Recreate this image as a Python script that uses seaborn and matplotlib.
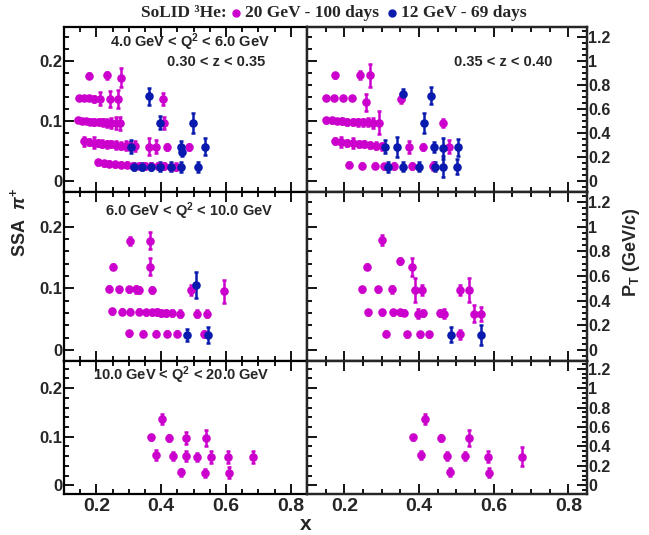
import matplotlib
matplotlib.use('Agg')
import matplotlib.pyplot as plt
from matplotlib.lines import Line2D
from matplotlib.ticker import MultipleLocator, FuncFormatter
import seaborn as sns

# ---- data: x, SSA, SSA error for each panel (magenta = 20 GeV, blue = 12 GeV)
tl_m_x = [0.176, 0.233, 0.276,
          0.145, 0.161, 0.176, 0.192, 0.212, 0.241, 0.266, 0.405,
          0.143, 0.155, 0.168, 0.181, 0.194, 0.207, 0.220, 0.233, 0.246, 0.259, 0.272, 0.408,
          0.163, 0.178, 0.192, 0.205, 0.218, 0.232, 0.246, 0.260, 0.275, 0.290, 0.305, 0.320,
          0.362, 0.383, 0.417, 0.486,
          0.204, 0.222, 0.240, 0.258, 0.276, 0.294, 0.312, 0.330, 0.350, 0.370, 0.390, 0.410, 0.430, 0.445]
tl_m_y = [0.175, 0.176, 0.172,
          0.138, 0.138, 0.138, 0.137, 0.137, 0.136, 0.137, 0.137,
          0.101, 0.100, 0.100, 0.099, 0.099, 0.098, 0.098, 0.097, 0.097, 0.097, 0.096, 0.096,
          0.066, 0.065, 0.064, 0.063, 0.062, 0.061, 0.061, 0.060, 0.059, 0.059, 0.058, 0.058,
          0.057, 0.057, 0.057, 0.057,
          0.031, 0.030, 0.029, 0.028, 0.027, 0.027, 0.026, 0.026, 0.025, 0.025, 0.025, 0.025, 0.024, 0.024]
tl_m_e = [0.004, 0.006, 0.016,
          0.004, 0.004, 0.004, 0.005, 0.011, 0.013, 0.015, 0.010,
          0.003, 0.003, 0.004, 0.004, 0.005, 0.005, 0.006, 0.007, 0.008, 0.010, 0.011, 0.010,
          0.007, 0.005, 0.009, 0.005, 0.006, 0.006, 0.005, 0.006, 0.006, 0.007, 0.007, 0.008,
          0.014, 0.011, 0.005, 0.005,
          0.004, 0.004, 0.004, 0.004, 0.004, 0.004, 0.004, 0.004, 0.005, 0.005, 0.005, 0.005, 0.005, 0.006]
tl_b_x = [0.362, 0.396, 0.499, 0.308, 0.460, 0.463, 0.534,
          0.315, 0.341, 0.367, 0.396, 0.429, 0.462, 0.515]
tl_b_y = [0.141, 0.097, 0.097, 0.057, 0.056, 0.049, 0.057,
          0.024, 0.024, 0.024, 0.024, 0.024, 0.024, 0.024]
tl_b_e = [0.014, 0.011, 0.017, 0.011, 0.011, 0.008, 0.014,
          0.006, 0.006, 0.006, 0.007, 0.007, 0.008, 0.008]

tr_m_x = [0.176, 0.242, 0.270,
          0.150, 0.172, 0.196, 0.220, 0.257, 0.353,
          0.152, 0.166, 0.180, 0.194, 0.208, 0.222, 0.236, 0.250, 0.264, 0.278, 0.292, 0.465,
          0.174, 0.190, 0.206, 0.222, 0.238, 0.254, 0.270, 0.286, 0.301,
          0.374, 0.411, 0.481,
          0.213, 0.248, 0.282, 0.305, 0.332, 0.380, 0.437]
tr_m_y = [0.176, 0.176, 0.176,
          0.138, 0.138, 0.138, 0.138, 0.131, 0.137,
          0.101, 0.101, 0.100, 0.100, 0.099, 0.099, 0.098, 0.098, 0.098, 0.097, 0.097, 0.097,
          0.066, 0.065, 0.064, 0.063, 0.062, 0.061, 0.060, 0.059, 0.058,
          0.057, 0.057, 0.057,
          0.027, 0.026, 0.026, 0.025, 0.025, 0.025, 0.025]
tr_m_e = [0.004, 0.007, 0.019,
          0.004, 0.004, 0.004, 0.004, 0.014, 0.008,
          0.004, 0.004, 0.004, 0.005, 0.005, 0.005, 0.006, 0.006, 0.007, 0.008, 0.019, 0.007,
          0.005, 0.008, 0.005, 0.008, 0.005, 0.005, 0.005, 0.006, 0.006,
          0.010, 0.005, 0.011,
          0.004, 0.004, 0.004, 0.004, 0.005, 0.005, 0.006]
tr_b_x = [0.356, 0.431, 0.413, 0.310, 0.340, 0.441, 0.463, 0.505,
          0.318, 0.358, 0.400, 0.443, 0.465, 0.503]
tr_b_y = [0.145, 0.142, 0.097, 0.057, 0.057, 0.057, 0.0545, 0.056,
          0.024, 0.024, 0.024, 0.024, 0.024, 0.024]
tr_b_e = [0.008, 0.014, 0.017, 0.011, 0.017, 0.008, 0.017, 0.014,
          0.008, 0.007, 0.007, 0.007, 0.017, 0.012]

ml_m_x = [0.303, 0.365, 0.252, 0.365,
          0.238, 0.271, 0.300, 0.321, 0.331, 0.372, 0.491, 0.594,
          0.249, 0.280, 0.305, 0.331, 0.352, 0.372, 0.388, 0.398, 0.414, 0.434, 0.458, 0.512, 0.540,
          0.300, 0.345, 0.383, 0.417, 0.450, 0.532]
ml_m_y = [0.177, 0.177, 0.135, 0.135,
          0.099, 0.098, 0.098, 0.098, 0.097, 0.097, 0.097, 0.095,
          0.063, 0.062, 0.062, 0.062, 0.061, 0.061, 0.061, 0.060, 0.060, 0.060, 0.059, 0.059, 0.059,
          0.027, 0.026, 0.026, 0.026, 0.026, 0.026]
ml_m_e = [0.0065, 0.0135, 0.004, 0.0135,
          0.004, 0.004, 0.004, 0.005, 0.005, 0.005, 0.008, 0.019,
          0.004, 0.004, 0.004, 0.004, 0.004, 0.004, 0.005, 0.005, 0.005, 0.005, 0.006, 0.005, 0.006,
          0.004, 0.004, 0.004, 0.004, 0.004, 0.005]
ml_b_x = [0.507, 0.479, 0.543]
ml_b_y = [0.105, 0.024, 0.024]
ml_b_e = [0.0205, 0.0098, 0.0135]

mr_m_x = [0.301, 0.260, 0.349, 0.380,
          0.246, 0.289, 0.327, 0.390, 0.409, 0.511, 0.533,
          0.263, 0.301, 0.330, 0.349, 0.361, 0.396, 0.411, 0.457, 0.468, 0.548, 0.567,
          0.312, 0.369, 0.402, 0.426, 0.509]
mr_m_y = [0.178, 0.135, 0.144, 0.134,
          0.098, 0.098, 0.098, 0.097, 0.097, 0.097, 0.097,
          0.061, 0.061, 0.061, 0.061, 0.060, 0.059, 0.060, 0.060, 0.059, 0.059, 0.058,
          0.026, 0.025, 0.025, 0.025, 0.025]
mr_m_e = [0.008, 0.004, 0.005, 0.015,
          0.004, 0.004, 0.005, 0.019, 0.008, 0.008, 0.019,
          0.004, 0.004, 0.004, 0.004, 0.004, 0.008, 0.005, 0.005, 0.008, 0.013, 0.011,
          0.004, 0.004, 0.004, 0.004, 0.008]
mr_b_x = [0.487, 0.566]
mr_b_y = [0.0245, 0.0245]
mr_b_e = [0.012, 0.016]

bl_m_x = [0.403, 0.370, 0.424, 0.476, 0.538, 0.384, 0.437, 0.476,
          0.510, 0.553, 0.605, 0.684, 0.462, 0.535, 0.610]
bl_m_y = [0.136, 0.099, 0.097, 0.097, 0.097, 0.063, 0.061, 0.060,
          0.059, 0.058, 0.058, 0.058, 0.027, 0.026, 0.026]
bl_m_e = [0.010, 0.005, 0.006, 0.012, 0.017, 0.010, 0.008, 0.010,
          0.008, 0.012, 0.012, 0.013, 0.007, 0.008, 0.012]

br_m_x = [0.415, 0.385, 0.458, 0.535, 0.406, 0.474, 0.524, 0.585, 0.677, 0.484, 0.587]
br_m_y = [0.136, 0.099, 0.097, 0.097, 0.062, 0.061, 0.060, 0.059, 0.059, 0.027, 0.026]
br_m_e = [0.010, 0.005, 0.006, 0.017, 0.008, 0.008, 0.008, 0.012, 0.019, 0.008, 0.010]

panel_labels = ['4.0 GeV < Q$^{\\mathregular{2}}$ < 6.0 GeV',
                '6.0 GeV < Q$^{\\mathregular{2}}$ < 10.0 GeV',
                '10.0 GeV < Q$^{\\mathregular{2}}$ < 20.0 GeV']
z_labels = ['0.30 < z < 0.35', '0.35 < z < 0.40']
legend_labels = ['20 GeV - 100 days', '12 GeV - 69 days']

MAGENTA = '#CC00CC'
BLUE = '#0A1AAF'

sns.set_theme(style='ticks')
plt.rcParams['font.family'] = ['Liberation Sans', 'DejaVu Sans']
plt.rcParams['font.weight'] = 'bold'
plt.rcParams['mathtext.fontset'] = 'custom'
plt.rcParams['mathtext.rm'] = 'Liberation Sans:bold'
plt.rcParams['mathtext.it'] = 'Liberation Sans:bold:italic'
plt.rcParams['mathtext.bf'] = 'Liberation Sans:bold'

W, H = 649, 535
fig = plt.figure(figsize=(W / 100, H / 100), dpi=100)


def fx(px):
    return px / W


def fy(py):
    return 1 - py / H


def add_ax(x0, y0, x1, y1):
    return fig.add_axes([fx(x0), fy(y1), (x1 - x0) / W, (y1 - y0) / H])


cols = [(64, 307), (307, 587)]
rows = [(27, 192), (192, 361), (361, 494)]
XLIM = (0.1, 0.85)
YLIM = (-0.018, 0.256)
fmt = FuncFormatter(lambda v, p: '%g' % round(v, 3))

panels = [
    [((tl_m_x, tl_m_y, tl_m_e), (tl_b_x, tl_b_y, tl_b_e)),
     ((tr_m_x, tr_m_y, tr_m_e), (tr_b_x, tr_b_y, tr_b_e))],
    [((ml_m_x, ml_m_y, ml_m_e), (ml_b_x, ml_b_y, ml_b_e)),
     ((mr_m_x, mr_m_y, mr_m_e), (mr_b_x, mr_b_y, mr_b_e))],
    [((bl_m_x, bl_m_y, bl_m_e), None),
     ((br_m_x, br_m_y, br_m_e), None)],
]

for r, (y0, y1) in enumerate(rows):
    for c, (x0, x1) in enumerate(cols):
        ax = add_ax(x0, y0, x1, y1)
        for series, color in zip(panels[r][c], [MAGENTA, BLUE]):
            if series is None:
                continue
            xs, ys, es = series
            ax.errorbar(xs, ys, yerr=es, fmt='none', ecolor=color,
                        elinewidth=1.8, capsize=1.6, capthick=1.8, zorder=2)
            sns.scatterplot(x=xs, y=ys, color=color, s=38, linewidth=0,
                            ax=ax, zorder=3)
        ax.set_xlim(*XLIM)
        ax.set_ylim(*YLIM)
        ax.set_xlabel('')
        ax.set_ylabel('')
        ax.xaxis.set_major_locator(MultipleLocator(0.2))
        ax.xaxis.set_minor_locator(MultipleLocator(0.05))
        ax.yaxis.set_major_locator(MultipleLocator(0.1))
        ax.yaxis.set_minor_locator(MultipleLocator(0.02))
        ax.xaxis.set_major_formatter(fmt)
        ax.yaxis.set_major_formatter(fmt)
        ax.tick_params(which='both', direction='in', top=True, bottom=True,
                       left=True, right=False, width=1.3, color='black')
        ax.tick_params(which='major', length=7)
        ax.tick_params(which='minor', length=3.5)
        ax.tick_params(axis='x', labelsize=14, pad=3, labelbottom=(r == 2))
        ax.tick_params(axis='y', labelsize=12, pad=1, labelleft=(c == 0))
        for sp in ax.spines.values():
            sp.set_linewidth(1.6)
            sp.set_color('black')
        if c == 1:
            ax2 = ax.twinx()
            ax2.set_ylim(YLIM[0] * 5, YLIM[1] * 5)
            ax2.yaxis.set_major_locator(MultipleLocator(0.2))
            ax2.yaxis.set_minor_locator(MultipleLocator(0.05))
            ax2.yaxis.set_major_formatter(fmt)
            ax2.tick_params(which='both', direction='in', width=1.3,
                            labelsize=11.5, pad=1, color='black')
            ax2.tick_params(which='major', length=7)
            ax2.tick_params(which='minor', length=3.5)
            for sp in ax2.spines.values():
                sp.set_linewidth(1.6)
            ax2.grid(False)

# panel texts
fig.text(fx(110), fy(42), panel_labels[0], fontsize=10.5, va='center', ha='left')
fig.text(fx(167), fy(62), z_labels[0], fontsize=10.5, va='center', ha='left')
fig.text(fx(454), fy(62), z_labels[1], fontsize=10.5, va='center', ha='left')
fig.text(fx(105), fy(211), panel_labels[1], fontsize=10.5, va='center', ha='left')
fig.text(fx(93), fy(375), panel_labels[2], fontsize=10.5, va='center', ha='left')

# axis titles
fig.text(fx(19), fy(222), 'SSA  $\\pi^{+}$', fontsize=13, rotation=90,
         va='center', ha='center')
fig.text(fx(632), fy(252), 'P$_{\\mathregular{T}}$ (GeV/c)', fontsize=13,
         rotation=90, va='center', ha='center')
fig.text(fx(306), fy(525), 'x', fontsize=15, va='center', ha='center')

# header legend
serif = ['Liberation Serif', 'DejaVu Serif']
fig.text(fx(184), fy(13), 'SoLID \u00b3He:', family=serif, fontsize=12.5,
         va='center', ha='center')
fig.add_artist(Line2D([fx(236)], [fy(13)], marker='o', color=MAGENTA, ms=5,
                      transform=fig.transFigure))
fig.text(fx(245), fy(13), legend_labels[0], family=serif, fontsize=12.5,
         va='center', ha='left')
fig.add_artist(Line2D([fx(392)], [fy(13)], marker='o', color=BLUE, ms=5,
                      transform=fig.transFigure))
fig.text(fx(401), fy(13), legend_labels[1], family=serif, fontsize=12.5,
         va='center', ha='left')

fig.savefig('out.png', dpi=100)
